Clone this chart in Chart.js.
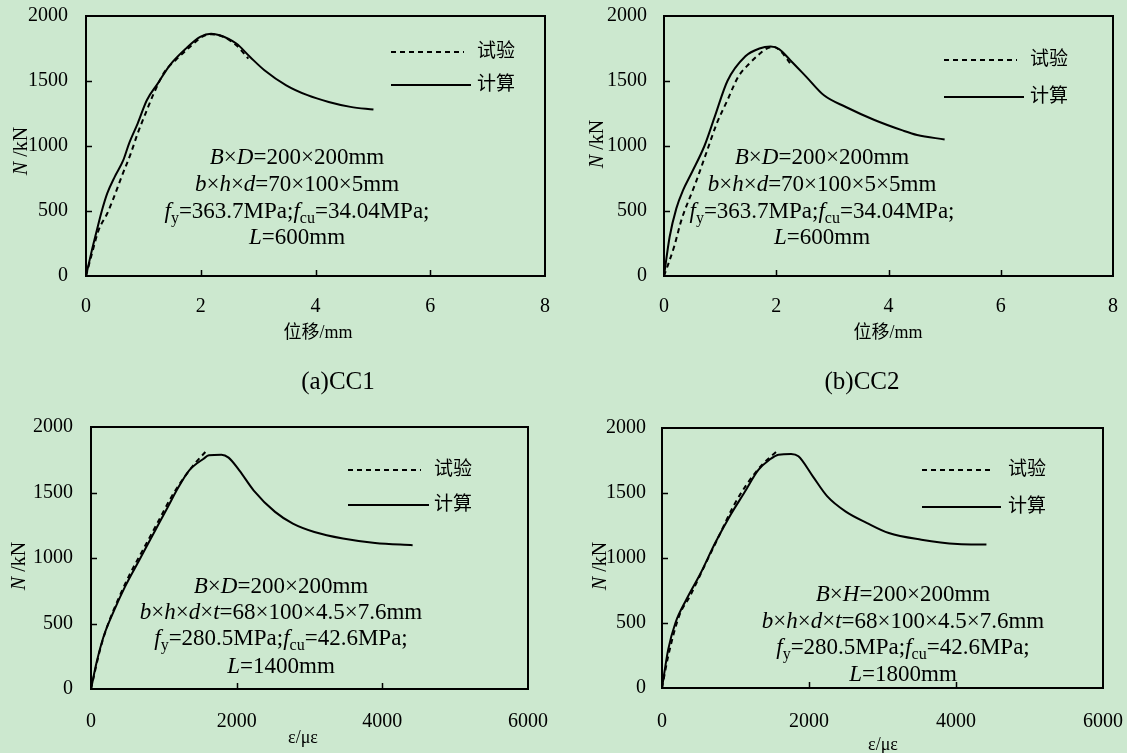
<!DOCTYPE html>
<html>
<head>
<meta charset="utf-8">
<script src="https://cdn.jsdelivr.net/npm/chart.js@4.4.1/dist/chart.umd.min.js"></script>
<style>
    html, body { margin: 0; padding: 0; }
    body { width: 1127px; height: 753px; background: #cce8cf; position: relative; overflow: hidden; }
    canvas { position: absolute; }
</style>
</head>
<body>
<canvas id="cc1" width="560" height="400" style="left:0;top:0"></canvas>
<canvas id="cc2" width="567" height="400" style="left:560px;top:0"></canvas>
<canvas id="cc3" width="560" height="343" style="left:0;top:410px"></canvas>
<canvas id="cc4" width="567" height="343" style="left:560px;top:410px"></canvas>
<script>
// Tick labels
const loadTicks = [0, 500, 1000, 1500, 2000];
const dispTicks = [0, 2, 4, 6, 8];
const strainTicks = [0, 2000, 4000, 6000];

// Series names
const seriesNames = ['试验', '计算'];

// CC1 - displacement (mm) vs load (kN)
const cc1TestX = [0, 0.12, 0.22, 0.37, 0.49, 0.62, 0.78, 0.90, 1.06, 1.18, 1.37, 1.56, 1.81, 2.02, 2.18, 2.37, 2.62, 2.83];
const cc1TestY = [0, 200, 353, 481, 610, 763, 942, 1096, 1275, 1403, 1570, 1660, 1762, 1839, 1860, 1844, 1775, 1672];
const cc1CalcX = [0, 0.09, 0.19, 0.28, 0.37, 0.50, 0.65, 0.75, 0.90, 1.06, 1.25, 1.46, 1.74, 1.99, 2.18, 2.33, 2.62, 2.86, 3.11, 3.49, 3.86, 4.23, 4.61, 5.01];
const cc1CalcY = [0, 174, 353, 507, 635, 763, 891, 1019, 1173, 1352, 1480, 1621, 1749, 1839, 1864, 1852, 1788, 1685, 1583, 1467, 1391, 1339, 1301, 1280];

// CC2 - displacement (mm) vs load (kN)
const cc2TestX = [0, 0.18, 0.31, 0.56, 0.75, 0.94, 1.13, 1.32, 1.52, 1.71, 1.83, 1.96, 2.09, 2.25];
const cc2TestY = [0, 225, 430, 712, 942, 1173, 1352, 1531, 1634, 1711, 1749, 1762, 1724, 1634];
const cc2CalcX = [0, 0.10, 0.22, 0.34, 0.50, 0.72, 0.90, 1.13, 1.45, 1.70, 1.90, 2.05, 2.25, 2.54, 2.85, 3.24, 3.75, 4.25, 4.51, 5.00];
const cc2CalcY = [0, 300, 520, 660, 800, 1000, 1220, 1500, 1690, 1750, 1765, 1745, 1660, 1530, 1390, 1300, 1200, 1120, 1085, 1050];

// CC3 - strain (με) vs load (kN)
const cc3TestX = [0, 123, 221, 368, 515, 711, 908, 1104, 1251, 1423, 1570];
const cc3TestY = [0, 297, 475, 678, 856, 1060, 1263, 1466, 1593, 1720, 1809];
const cc3CalcX = [0, 74, 172, 319, 466, 662, 859, 1055, 1202, 1349, 1546, 1619, 1791, 1889, 2036, 2232, 2527, 2772, 3067, 3459, 3901, 4416];
const cc3CalcY = [0, 196, 399, 602, 780, 983, 1187, 1390, 1542, 1669, 1758, 1784, 1789, 1766, 1669, 1517, 1352, 1263, 1199, 1149, 1115, 1098];

// CC4 - strain (με) vs load (kN)
const cc4TestX = [0, 84, 231, 379, 576, 773, 970, 1166, 1363, 1560];
const cc4TestY = [0, 244, 551, 705, 936, 1167, 1397, 1577, 1718, 1820];
const cc4CalcX = [0, 84, 182, 330, 527, 723, 920, 1117, 1314, 1462, 1585, 1757, 1856, 2052, 2249, 2495, 2790, 3086, 3529, 4021, 4414];
const cc4CalcY = [0, 295, 500, 679, 885, 1115, 1320, 1500, 1679, 1756, 1795, 1800, 1782, 1628, 1474, 1359, 1269, 1192, 1141, 1108, 1103];

const SERIF = "'Liberation Serif', 'Noto Sans CJK SC', serif";

// zip two arrays into {x, y} points
function toPoints(xs, ys) {
    return xs.map((x, i) => ({ x: x, y: ys[i] }));
}

// draw a line of text with *italic* and _subscript_ parts, centred on cx
function drawRich(ctx, text, cx, cy, size) {
    const parts = text.split(/(\*[^*]+\*|_[^_]+_)/).filter(p => p);
    const items = parts.map(p => {
        if (p[0] === '*') return { t: p.slice(1, -1), font: 'italic ' + size + 'px ' + SERIF, dy: 0 };
        if (p[0] === '_') return { t: p.slice(1, -1), font: Math.round(size * 0.7) + 'px ' + SERIF, dy: size * 0.28 };
        return { t: p, font: size + 'px ' + SERIF, dy: 0 };
    });
    let total = 0;
    items.forEach(it => { ctx.font = it.font; it.w = ctx.measureText(it.t).width; total += it.w; });
    let x = cx - total / 2;
    ctx.textAlign = 'left';
    ctx.textBaseline = 'middle';
    items.forEach(it => {
        ctx.font = it.font;
        ctx.fillText(it.t, x, cy + it.dy);
        x += it.w;
    });
}

// frame, inward ticks, legend, notes and titles
const paperPlugin = {
    id: 'paper',
    beforeDatasetsDraw(chart) {
        const ctx = chart.ctx;
        const a = chart.chartArea;
        const xs = chart.scales.x, ys = chart.scales.y;
        ctx.save();
        ctx.strokeStyle = '#000';
        ctx.lineWidth = 2;
        ctx.strokeRect(a.left, a.top, a.right - a.left, a.bottom - a.top);
        ctx.lineWidth = 1.5;
        ctx.beginPath();
        xs.ticks.forEach(t => {
            if (t.value <= xs.min || t.value >= xs.max) return;
            const px = Math.round(xs.getPixelForValue(t.value)) + 0.5;
            ctx.moveTo(px, a.bottom);
            ctx.lineTo(px, a.bottom - 6);
        });
        ys.ticks.forEach(t => {
            if (t.value <= ys.min || t.value >= ys.max) return;
            const py = Math.round(ys.getPixelForValue(t.value)) + 0.5;
            ctx.moveTo(a.left, py);
            ctx.lineTo(a.left + 6, py);
        });
        ctx.stroke();
        ctx.restore();
    },
    afterDraw(chart) {
        const ctx = chart.ctx;
        const g = chart.options.plugins.paper;
        ctx.save();
        ctx.fillStyle = '#000';

        // legend
        chart.data.datasets.forEach((ds, i) => {
            const ly = g.legend.y[i];
            ctx.strokeStyle = '#000';
            ctx.lineWidth = 2;
            ctx.setLineDash(ds.borderDash || []);
            ctx.beginPath();
            ctx.moveTo(g.legend.x0, ly);
            ctx.lineTo(g.legend.x1[i], ly);
            ctx.stroke();
            ctx.setLineDash([]);
            ctx.font = '19px ' + SERIF;
            ctx.textAlign = 'left';
            ctx.textBaseline = 'middle';
            ctx.fillText(ds.label, g.legend.tx, ly);
        });

        // specimen notes
        g.notes.forEach((line, i) => drawRich(ctx, line, g.noteX, g.noteY[i], 23));

        // x axis title
        drawRich(ctx, g.xTitle, g.xTitlePos[0], g.xTitlePos[1], 18);

        // y axis title
        ctx.save();
        ctx.translate(g.yTitlePos[0], g.yTitlePos[1]);
        ctx.rotate(-Math.PI / 2);
        drawRich(ctx, '*N* /kN', 0, 0, 20);
        ctx.restore();

        // caption
        if (g.caption) {
            ctx.font = '25px ' + SERIF;
            ctx.textAlign = 'center';
            ctx.textBaseline = 'middle';
            ctx.fillText(g.caption, g.captionPos[0], g.captionPos[1]);
        }
        ctx.restore();
    }
};

function makeChart(id, test, calc, xTicks, geo, paper) {
    const ctx = document.getElementById(id).getContext('2d');
    const tickFont = { family: SERIF, size: 20 };
    return new Chart(ctx, {
        type: 'line',
        data: {
            datasets: [{
                label: seriesNames[0],
                data: test,
                borderColor: '#000',
                borderWidth: 2,
                borderDash: [5, 4],
                pointRadius: 0,
                fill: false,
                cubicInterpolationMode: 'monotone'
            }, {
                label: seriesNames[1],
                data: calc,
                borderColor: '#000',
                borderWidth: 2,
                pointRadius: 0,
                fill: false,
                cubicInterpolationMode: 'monotone'
            }]
        },
        options: {
            responsive: false,
            animation: false,
            layout: { padding: { top: geo.top, right: geo.right, left: 0, bottom: 0 } },
            plugins: {
                legend: { display: false },
                tooltip: { enabled: false },
                paper: paper
            },
            scales: {
                x: {
                    type: 'linear',
                    min: xTicks[0],
                    max: xTicks[xTicks.length - 1],
                    afterBuildTicks: s => { s.ticks = xTicks.map(v => ({ value: v })); },
                    // fixed axis size, no extra label overflow padding
                    afterFit: s => { s.height = geo.xAxisH; s.paddingLeft = 0; s.paddingRight = 0; },
                    grid: { display: false, drawTicks: false },
                    border: { display: false },
                    ticks: { color: '#000', font: tickFont, padding: geo.xPad, maxRotation: 0, autoSkip: false, callback: v => String(v) }
                },
                y: {
                    type: 'linear',
                    min: loadTicks[0],
                    max: loadTicks[loadTicks.length - 1],
                    afterBuildTicks: s => { s.ticks = loadTicks.map(v => ({ value: v })); },
                    afterFit: s => { s.width = geo.yAxisW; s.paddingTop = 0; s.paddingBottom = 0; },
                    grid: { display: false, drawTicks: false },
                    border: { display: false },
                    ticks: { color: '#000', font: tickFont, padding: geo.yPad, autoSkip: false, callback: v => String(v) }
                }
            }
        },
        plugins: [paperPlugin]
    });
}

document.addEventListener('DOMContentLoaded', function() {
    makeChart('cc1', toPoints(cc1TestX, cc1TestY), toPoints(cc1CalcX, cc1CalcY), dispTicks,
        { top: 16, right: 15, xAxisH: 124, yAxisW: 86, xPad: 19, yPad: 18 },
        {
            legend: { x0: 391, x1: [464, 471], tx: 477, y: [52, 85] },
            notes: ['*B*×*D*=200×200mm', '*b*×*h*×*d*=70×100×5mm', '*f*_y_=363.7MPa;*f*_cu_=34.04MPa;', '*L*=600mm'],
            noteX: 297, noteY: [158, 185, 212, 238],
            xTitle: '位移/mm', xTitlePos: [318, 333],
            yTitlePos: [22, 151],
            caption: '(a)CC1', captionPos: [338, 382]
        });

    makeChart('cc2', toPoints(cc2TestX, cc2TestY), toPoints(cc2CalcX, cc2CalcY), dispTicks,
        { top: 16, right: 14, xAxisH: 124, yAxisW: 104, xPad: 19, yPad: 17 },
        {
            legend: { x0: 384, x1: [457, 464], tx: 470, y: [60, 97] },
            notes: ['*B*×*D*=200×200mm', '*b*×*h*×*d*=70×100×5×5mm', '*f*_y_=363.7MPa;*f*_cu_=34.04MPa;', '*L*=600mm'],
            noteX: 262, noteY: [158, 185, 212, 238],
            xTitle: '位移/mm', xTitlePos: [328, 333],
            yTitlePos: [38, 144],
            caption: '(b)CC2', captionPos: [302, 382]
        });

    makeChart('cc3', toPoints(cc3TestX, cc3TestY), toPoints(cc3CalcX, cc3CalcY), strainTicks,
        { top: 17, right: 32, xAxisH: 64, yAxisW: 91, xPad: 21, yPad: 18 },
        {
            legend: { x0: 348, x1: [421, 429], tx: 434, y: [60, 95] },
            notes: ['*B*×*D*=200×200mm', '*b*×*h*×*d*×*t*=68×100×4.5×7.6mm', '*f*_y_=280.5MPa;*f*_cu_=42.6MPa;', '*L*=1400mm'],
            noteX: 281, noteY: [177, 203, 229, 257],
            xTitle: 'ε/με', xTitlePos: [303, 328],
            yTitlePos: [20, 156]
        });

    makeChart('cc4', toPoints(cc4TestX, cc4TestY), toPoints(cc4CalcX, cc4CalcY), strainTicks,
        { top: 18, right: 24, xAxisH: 65, yAxisW: 102, xPad: 22, yPad: 16 },
        {
            legend: { x0: 362, x1: [434, 441], tx: 448, y: [60, 97] },
            notes: ['*B*×*H*=200×200mm', '*b*×*h*×*d*×*t*=68×100×4.5×7.6mm', '*f*_y_=280.5MPa;*f*_cu_=42.6MPa;', '*L*=1800mm'],
            noteX: 343, noteY: [185, 212, 238, 265],
            xTitle: 'ε/με', xTitlePos: [323, 335],
            yTitlePos: [41, 156]
        });
});
</script>
</body>
</html>
